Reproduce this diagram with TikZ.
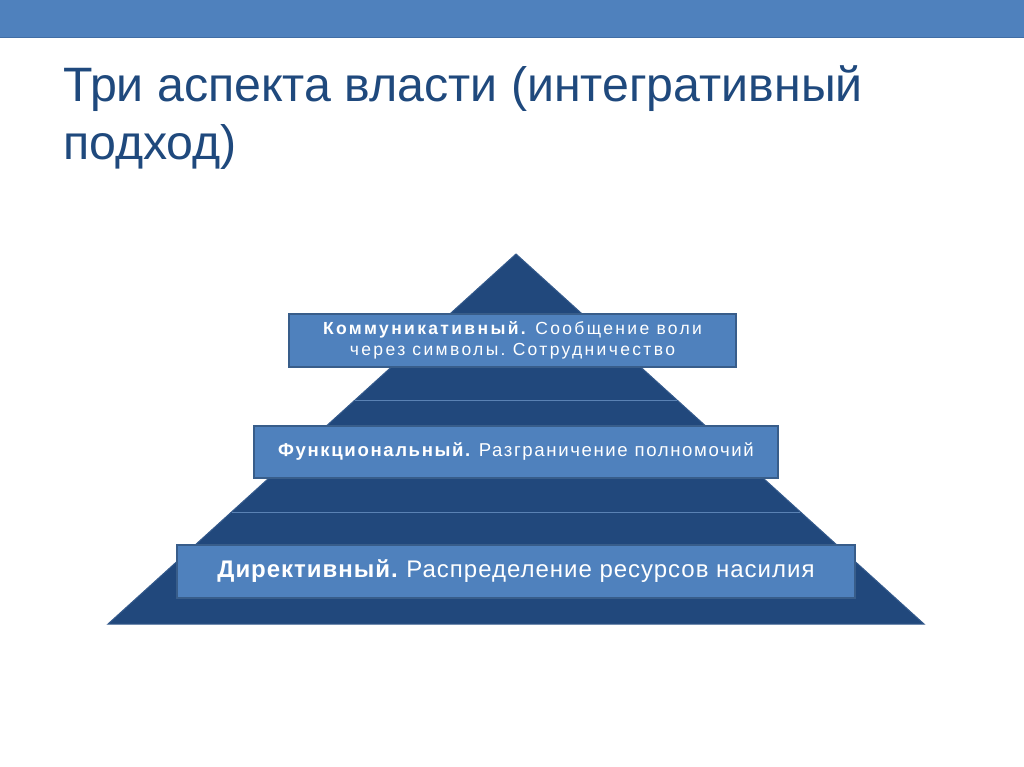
\documentclass[tikz,border=0pt]{standalone}
\usepackage{fontspec}
\setmainfont{Liberation Sans}
\newfontfamily\boxfontA[LetterSpace=13.4]{Liberation Sans}
\newfontfamily\boxfontB[LetterSpace=8.7]{Liberation Sans}
\newfontfamily\boxfontC[LetterSpace=4.1]{Liberation Sans}
\definecolor{barblue}{RGB}{79,129,189}
\definecolor{bardark}{RGB}{65,110,165}
\definecolor{titleblue}{RGB}{31,73,125}
\definecolor{pyrfill}{RGB}{33,72,124}
\definecolor{pyredge}{RGB}{52,90,140}
\definecolor{boxfill}{RGB}{79,129,189}
\definecolor{boxedge}{RGB}{56,93,138}
\definecolor{divline}{RGB}{90,130,180}
\tikzset{
  px/.style={x=1pt,y=-1pt},
  layerbox/.style={draw=boxedge,line width=1.5pt,fill=boxfill,text=white,inner sep=0pt,align=center},
}
\begin{document}
\frenchspacing
\begin{tikzpicture}[px]
\useasboundingbox (0,0) rectangle (1024,767);
\fill[white] (0,0) rectangle (1024,767);
% top bar
\fill[barblue] (0,0) rectangle (1024,38);
\draw[bardark,line width=1pt] (0,38) -- (1024,38);
% title
\node[anchor=base west,text=titleblue,font=\fontsize{48.3}{58}\selectfont,inner sep=0pt,align=left] (title) at (63,160)
  {Три аспекта власти (интегративный\\подход)};
% pyramid
\coordinate (apex) at (516,254);
\coordinate (bl) at (108,624);
\coordinate (br) at (924,624);
\draw[pyredge,fill=pyrfill,line width=1pt,line join=miter] (apex) -- (br) -- (bl) -- cycle;
\coordinate (l1a) at (355,400);
\coordinate (l1b) at (677,400);
\coordinate (l2a) at (232,512);
\coordinate (l2b) at (800,512);
\draw[divline,line width=1pt] (l1a) -- (l1b);
\draw[divline,line width=1pt] (l2a) -- (l2b);
% boxes
\node[layerbox,minimum width=447pt,minimum height=53pt,font=\boxfontA\fontsize{17.5}{20.5}\selectfont] (b1) at (512.5,340.5)
  {\textbf{Коммуникативный.} Сообщение воли\\через символы. Сотрудничество};
\node[layerbox,minimum width=524pt,minimum height=52pt,font=\boxfontB\fontsize{18.6}{23}\selectfont] (b2) at (516,452)
  {\textbf{Функциональный.} Разграничение полномочий};
\node[layerbox,minimum width=678pt,minimum height=53pt,font=\boxfontC\fontsize{24}{28}\selectfont] (b3) at (516,571.5)
  {\textbf{Директивный.} Распределение ресурсов насилия};
\end{tikzpicture}
\end{document}
